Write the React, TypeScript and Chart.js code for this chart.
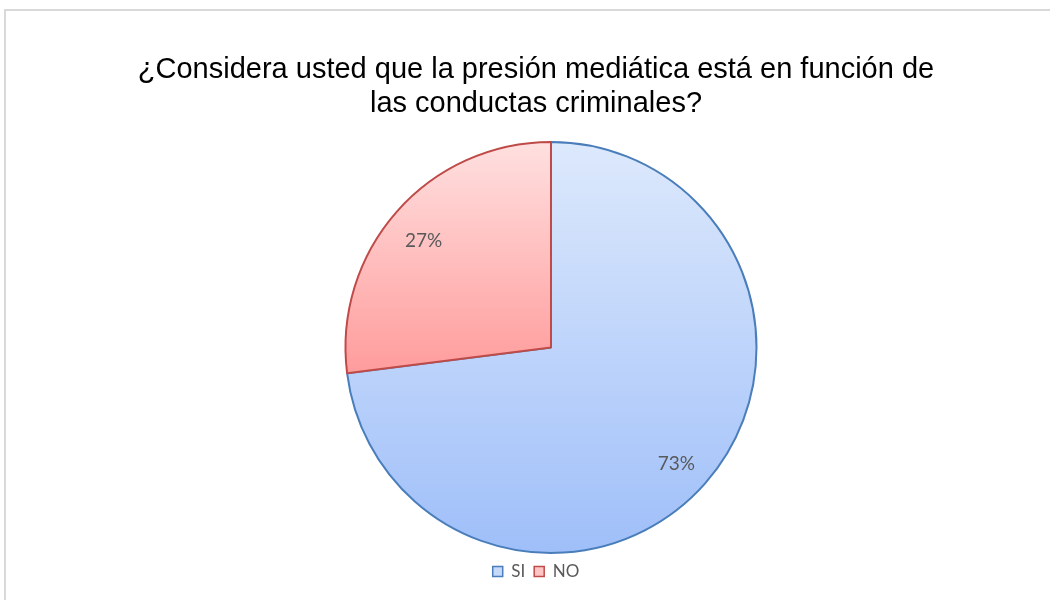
import React, { useEffect, useRef } from "react";
import { Chart, registerables } from "chart.js";

Chart.register(...registerables);

const titleLines = [
  "¿Considera usted que la presión mediática está en función de",
  "las conductas criminales?",
];
const categories = ["SI", "NO"];
const values = [73, 27];
const topColors = ["#dde9fc", "#ffe0e0"];
const bottomColors = ["#9fbff9", "#ff9c9c"];
const borderColors = ["#4a7ebb", "#be4b48"];
const legendFills = ["#c6d9f9", "#ffc4c4"];

const PIE_SHIFT = 15;

function sliceGradient(ctx: any) {
  const chart = ctx.chart;
  const area = chart.chartArea;
  if (!area) return topColors[ctx.dataIndex];
  const i = ctx.dataIndex;
  const total = values.reduce((a, b) => a + b, 0);
  let start = 0;
  for (let k = 0; k < i; k++) start += values[k] / total;
  const end = start + values[i] / total;
  const cy = (area.top + area.bottom) / 2;
  const r = (Math.min(area.right - area.left, area.bottom - area.top) - 2) / 2;
  let minY = 0;
  let maxY = 0;
  const steps = 200;
  for (let s = 0; s <= steps; s++) {
    const f = start + ((end - start) * s) / steps;
    const y = -Math.cos(f * 2 * Math.PI);
    minY = Math.min(minY, y);
    maxY = Math.max(maxY, y);
  }
  const g = chart.ctx.createLinearGradient(0, cy + minY * r, 0, cy + maxY * r);
  g.addColorStop(0, topColors[i]);
  g.addColorStop(1, bottomColors[i]);
  return g;
}

const shiftAndLabels = {
  id: "shiftAndLabels",
  beforeDatasetsDraw(chart: any) {
    chart.ctx.save();
    chart.ctx.translate(PIE_SHIFT, 0);
  },
  afterDatasetsDraw(chart: any) {
    const ctx = chart.ctx;
    const meta = chart.getDatasetMeta(0);
    const total = values.reduce((a, b) => a + b, 0);
    ctx.font = "19px Lato, 'Open Sans', sans-serif";
    ctx.fillStyle = "#595959";
    ctx.textAlign = "center";
    ctx.textBaseline = "middle";
    meta.data.forEach((arc: any, i: number) => {
      const p = arc.getProps(["x", "y", "startAngle", "endAngle", "outerRadius"], true);
      const mid = (p.startAngle + p.endAngle) / 2;
      const d = p.outerRadius * 0.82;
      const pct = Math.round((values[i] / total) * 100) + "%";
      ctx.fillText(pct, p.x + Math.cos(mid) * d - 1, p.y + Math.sin(mid) * d + 5);
    });
    ctx.restore();
  },
};

export default function App() {
  const ref = useRef<HTMLCanvasElement | null>(null);
  useEffect(() => {
    if (!ref.current) return;
    const chart = new Chart(ref.current, {
      type: "pie",
      data: {
        labels: categories,
        datasets: [
          {
            data: values,
            backgroundColor: sliceGradient as any,
            borderColor: borderColors,
            borderWidth: 2,
          },
        ],
      },
      options: {
        animation: false,
        responsive: false,
        layout: { padding: { left: 22, right: 0, top: 0, bottom: 10 } },
        plugins: {
          tooltip: { enabled: false },
          title: {
            display: true,
            text: titleLines,
            color: "#000000",
            font: { family: "'Liberation Sans', Arial, sans-serif", size: 29, weight: "normal", lineHeight: "34px" },
            padding: { top: 53, bottom: 20 },
          },
          legend: {
            position: "bottom",
            labels: {
              boxWidth: 10,
              boxHeight: 10,
              padding: 9,
              color: "#595959",
              font: { family: "Lato, 'Open Sans', sans-serif", size: 17 },
              generateLabels: () =>
                categories.map((c, i) => ({
                  text: c,
                  fillStyle: legendFills[i],
                  strokeStyle: borderColors[i],
                  lineWidth: 1.5,
                  fontColor: "#595959",
                  hidden: false,
                  index: i,
                  datasetIndex: 0,
                })),
            },
          },
        },
      },
      plugins: [shiftAndLabels],
    });
    return () => chart.destroy();
  }, []);

  return (
    <div style={{ position: "fixed", left: 0, top: 0, width: 1050, height: 600, background: "#ffffff", overflow: "hidden" }}>
      <div
        style={{
          position: "absolute",
          left: 4,
          top: 9,
          width: 1100,
          height: 700,
          borderTop: "2px solid #d9d9d9",
          borderLeft: "2px solid #d9d9d9",
        }}
      />
      <canvas ref={ref} width={1050} height={600} style={{ position: "absolute", left: 0, top: 0, width: 1050, height: 600 }} />
    </div>
  );
}
